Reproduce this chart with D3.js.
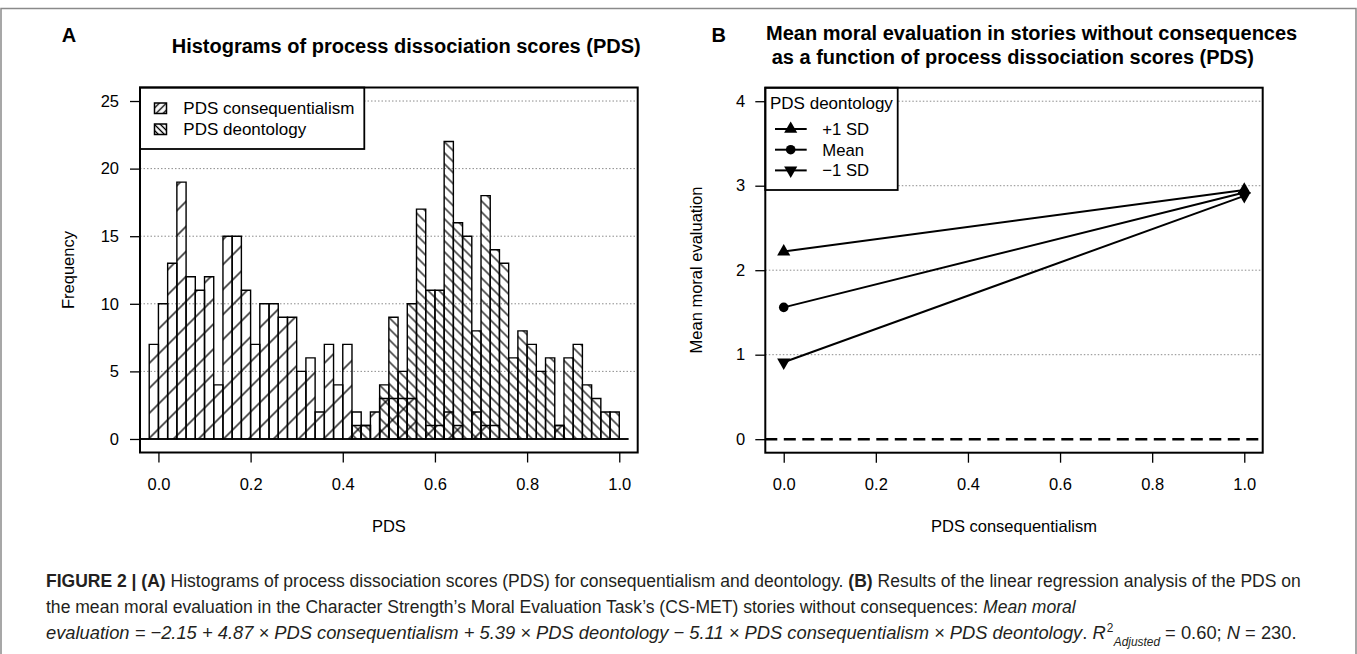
<!DOCTYPE html>
<html>
<head>
<meta charset="utf-8">
<script src="https://cdn.jsdelivr.net/npm/d3@7"></script>
<style>
  body { margin: 0; background: #fff; }
  svg { display: block; font-family: "Liberation Sans", Arial, sans-serif; }
</style>
</head>
<body>
<svg id="fig" width="1357" height="654"></svg>
<script>
//DATA - panel A (histogram breaks and counts)
const breaks = [-0.04, -0.02, 0.00, 0.02, 0.04, 0.06, 0.08, 0.10, 0.12, 0.14, 0.16, 0.18, 0.20,
  0.22, 0.24, 0.26, 0.28, 0.30, 0.32, 0.34, 0.36, 0.38, 0.40, 0.42, 0.44, 0.46, 0.48, 0.50, 0.52,
  0.54, 0.56, 0.58, 0.60, 0.62, 0.64, 0.66, 0.68, 0.70, 0.72, 0.74, 0.76, 0.78, 0.80, 0.82, 0.84,
  0.86, 0.88, 0.90, 0.92, 0.94, 0.96, 0.98, 1.00, 1.02];
const consequentialism = [0, 7, 10, 13, 19, 12, 11, 12, 4, 15, 15, 11, 7, 10, 10, 9, 9, 5, 6, 2,
  7, 4, 7, 2, 1, 2, 3, 3, 3, 3, 0, 1, 1, 2, 1, 0, 2, 1, 1, 0, 0, 0, 0, 0, 0, 1, 0, 0, 0, 0, 0, 0, 0];
const deontology = [0, 0, 0, 0, 0, 0, 0, 0, 0, 0, 0, 0, 0, 0, 0, 0, 0, 0, 0, 0,
  0, 0, 0, 1, 1, 0, 4, 9, 5, 10, 17, 11, 11, 22, 16, 15, 8, 18, 14, 13,
  6, 8, 7, 5, 6, 1, 6, 7, 4, 3, 2, 2, 0];
const pdsTicks = [0, 0.2, 0.4, 0.6, 0.8, 1.0];
const freqTicks = [0, 5, 10, 15, 20, 25];
const histLegend = ["PDS consequentialism", "PDS deontology"];

//DATA - panel B (simple slopes)
const pdsConseq = [0, 1];
const sdLabels = ["+1 SD", "Mean", "\u22121 SD"];
const plusOneSD = [2.22, 2.95];
const meanSD = [1.56, 2.92];
const minusOneSD = [0.91, 2.88];
const evalTicks = [0, 1, 2, 3, 4];

const svg = d3.select("#fig");
const defs = svg.append("defs");

function Hatch(id, angle, period, width) {
  let w = period / Math.SQRT2;
  defs
    .append("pattern")
    .attr("id", id)
    .attr("patternUnits", "userSpaceOnUse")
    .attr("width", w)
    .attr("height", 10)
    .attr("patternTransform", `rotate(${angle})`)
    .append("line")
    .attr("x1", w / 2)
    .attr("x2", w / 2)
    .attr("y1", -1)
    .attr("y2", 11)
    .attr("stroke", "#000")
    .attr("stroke-width", width);
}
Hatch("hatchCons", 45, 25, 1.3);
Hatch("hatchDeon", -45, 11, 1.2);
Hatch("legCons", 45, 7, 1.4);
Hatch("legDeon", -45, 6, 1.4);

// figure frame
svg
  .append("rect")
  .attr("x", 1)
  .attr("y", 8.5)
  .attr("width", 1355)
  .attr("height", 660)
  .attr("fill", "none")
  .attr("stroke", "#8a8a8a")
  .attr("stroke-width", 1.5);

function StyleAxis(g) {
  g.select(".domain").remove();
  g.attr("font-family", "Liberation Sans, Arial, sans-serif").attr("font-size", 16.5);
  g.selectAll("line").attr("stroke", "#000").attr("stroke-width", 1.3);
  g.selectAll("text").attr("fill", "#000");
}

/* ------------------------------ PANEL A ------------------------------ */
const xA = d3.scaleLinear().domain([-0.04, 1.04]).range([140, 637.7]);
const yA = d3.scaleLinear().domain([-1, 26]).range([452.5, 87.5]);
const panelA = svg.append("g");

panelA
  .selectAll(".gridA")
  .data(freqTicks.slice(1))
  .join("line")
  .attr("x1", xA.range()[0])
  .attr("x2", xA.range()[1])
  .attr("y1", (d) => yA(d))
  .attr("y2", (d) => yA(d))
  .attr("stroke", "#8c8c8c")
  .attr("stroke-width", 1)
  .attr("stroke-dasharray", "1.5,2");

function DrawBars(counts, fill) {
  panelA
    .append("g")
    .selectAll("path")
    .data(counts)
    .join("path")
    .attr("d", (d, i) => {
      let x0 = xA(breaks[i]);
      let x1 = xA(breaks[i + 1]);
      return `M${x0},${yA(0)}V${yA(d)}H${x1}V${yA(0)}Z`;
    })
    .attr("fill", `url(#${fill})`)
    .attr("stroke", "#000")
    .attr("stroke-width", 1.4);
}
DrawBars(consequentialism, "hatchCons");
DrawBars(deontology, "hatchDeon");

// legend A
panelA
  .append("rect")
  .attr("x", 140)
  .attr("y", 87.5)
  .attr("width", 224.3)
  .attr("height", 61.5)
  .attr("fill", "#fff")
  .attr("stroke", "#000")
  .attr("stroke-width", 1.8);
const legA = panelA
  .selectAll(".legA")
  .data(histLegend)
  .join("g")
  .attr("transform", (d, i) => `translate(0,${i * 21})`);
legA
  .append("rect")
  .attr("x", 154.5)
  .attr("y", 103)
  .attr("width", 12)
  .attr("height", 10.5)
  .attr("fill", (d, i) => (i === 0 ? "url(#legCons)" : "url(#legDeon)"))
  .attr("stroke", "#000")
  .attr("stroke-width", 1.5);
legA
  .append("text")
  .attr("x", 183.3)
  .attr("y", 114)
  .attr("font-size", 17)
  .text((d) => d);

// box + axes A
panelA
  .append("rect")
  .attr("x", 140)
  .attr("y", 87.5)
  .attr("width", 497.7)
  .attr("height", 365)
  .attr("fill", "none")
  .attr("stroke", "#000")
  .attr("stroke-width", 2);
panelA
  .append("g")
  .attr("transform", "translate(0,452.5)")
  .call(d3.axisBottom(xA).tickValues(pdsTicks).tickSize(10).tickPadding(16).tickFormat(d3.format(".1f")))
  .call(StyleAxis);
panelA
  .append("g")
  .attr("transform", "translate(140,0)")
  .call(d3.axisLeft(yA).tickValues(freqTicks).tickSize(10).tickPadding(11).tickFormat(d3.format("d")))
  .call(StyleAxis);

panelA
  .append("text")
  .attr("transform", "translate(74,270) rotate(-90)")
  .attr("text-anchor", "middle")
  .attr("font-size", 16.5)
  .text("Frequency");
panelA
  .append("text")
  .attr("x", 388.9)
  .attr("y", 531.7)
  .attr("text-anchor", "middle")
  .attr("font-size", 16.5)
  .text("PDS");
panelA
  .append("text")
  .attr("x", 61.7)
  .attr("y", 41.7)
  .attr("font-size", 20)
  .attr("font-weight", "bold")
  .text("A");
panelA
  .append("text")
  .attr("x", 171.7)
  .attr("y", 53)
  .attr("font-size", 20)
  .attr("font-weight", "bold")
  .text("Histograms of process dissociation scores (PDS)");

/* ------------------------------ PANEL B ------------------------------ */
const xB = d3.scaleLinear().domain([-0.04, 1.04]).range([765.3, 1262.7]);
const yB = d3.scaleLinear().domain([-0.16, 4.16]).range([452.7, 87.7]);
const panelB = svg.append("g");

panelB
  .selectAll(".gridB")
  .data(evalTicks.slice(1))
  .join("line")
  .attr("x1", xB.range()[0])
  .attr("x2", xB.range()[1])
  .attr("y1", (d) => yB(d))
  .attr("y2", (d) => yB(d))
  .attr("stroke", "#8c8c8c")
  .attr("stroke-width", 1)
  .attr("stroke-dasharray", "1.5,2");

panelB
  .append("line")
  .attr("x1", xB.range()[0])
  .attr("x2", xB.range()[1] - 4)
  .attr("y1", yB(0))
  .attr("y2", yB(0))
  .attr("stroke", "#000")
  .attr("stroke-width", 2.4)
  .attr("stroke-dasharray", "12,6.5");

const slopes = [
  { label: sdLabels[0], values: plusOneSD, shape: d3.symbolTriangle, rot: 0, size: 75 },
  { label: sdLabels[1], values: meanSD, shape: d3.symbolCircle, rot: 0, size: 72 },
  { label: sdLabels[2], values: minusOneSD, shape: d3.symbolTriangle, rot: 180, size: 75 },
];
const slopeLine = d3
  .line()
  .x((d, i) => xB(pdsConseq[i]))
  .y((d) => yB(d));

slopes.forEach((s) => {
  panelB
    .append("path")
    .attr("d", slopeLine(s.values))
    .attr("fill", "none")
    .attr("stroke", "#000")
    .attr("stroke-width", 2);
  panelB
    .selectAll(null)
    .data(s.values)
    .join("path")
    .attr("d", d3.symbol().type(s.shape).size(s.size))
    .attr("transform", (d, i) => `translate(${xB(pdsConseq[i])},${yB(d)}) rotate(${s.rot})`)
    .attr("fill", "#000");
});

// legend B
panelB
  .append("rect")
  .attr("x", 765.3)
  .attr("y", 87.7)
  .attr("width", 132.4)
  .attr("height", 102.3)
  .attr("fill", "#fff")
  .attr("stroke", "#000")
  .attr("stroke-width", 1.8);
panelB
  .append("text")
  .attr("x", 770)
  .attr("y", 108.5)
  .attr("font-size", 17)
  .text("PDS deontology");
const legB = panelB
  .selectAll(".legB")
  .data(slopes)
  .join("g")
  .attr("transform", (d, i) => `translate(0,${129 + i * 20.7})`);
legB
  .append("line")
  .attr("x1", 775)
  .attr("x2", 806.7)
  .attr("stroke", "#000")
  .attr("stroke-width", 2);
legB
  .append("path")
  .attr("d", (d) => d3.symbol().type(d.shape).size(d.size)())
  .attr("transform", (d) => `translate(790.7,0) rotate(${d.rot})`)
  .attr("fill", "#000");
legB
  .append("text")
  .attr("x", 822.3)
  .attr("y", 5.8)
  .attr("font-size", 16.7)
  .text((d) => d.label);

// box + axes B
panelB
  .append("rect")
  .attr("x", 765.3)
  .attr("y", 87.7)
  .attr("width", 497.4)
  .attr("height", 365)
  .attr("fill", "none")
  .attr("stroke", "#000")
  .attr("stroke-width", 2);
panelB
  .append("g")
  .attr("transform", "translate(0,452.7)")
  .call(d3.axisBottom(xB).tickValues(pdsTicks).tickSize(10).tickPadding(16).tickFormat(d3.format(".1f")))
  .call(StyleAxis);
panelB
  .append("g")
  .attr("transform", "translate(765.3,0)")
  .call(d3.axisLeft(yB).tickValues(evalTicks).tickSize(10).tickPadding(10).tickFormat(d3.format("d")))
  .call(StyleAxis);

panelB
  .append("text")
  .attr("transform", "translate(702,270) rotate(-90)")
  .attr("text-anchor", "middle")
  .attr("font-size", 16.5)
  .text("Mean moral evaluation");
panelB
  .append("text")
  .attr("x", 1014)
  .attr("y", 532)
  .attr("text-anchor", "middle")
  .attr("font-size", 16.5)
  .text("PDS consequentialism");
panelB
  .append("text")
  .attr("x", 711.6)
  .attr("y", 41.7)
  .attr("font-size", 20)
  .attr("font-weight", "bold")
  .text("B");
panelB
  .append("text")
  .attr("x", 766)
  .attr("y", 40)
  .attr("font-size", 20)
  .attr("font-weight", "bold")
  .text("Mean moral evaluation in stories without consequences");
panelB
  .append("text")
  .attr("x", 771.7)
  .attr("y", 64)
  .attr("font-size", 20)
  .attr("font-weight", "bold")
  .text("as a function of process dissociation scores (PDS)");

/* ------------------------------ CAPTION ------------------------------ */
const captionLines = [
  {
    y: 587,
    len: 1256,
    parts: [
      { t: "FIGURE 2 | (A)", b: true },
      { t: " Histograms of process dissociation scores (PDS) for consequentialism and deontology. " },
      { t: "(B)", b: true },
      { t: " Results of the linear regression analysis of the PDS on" },
    ],
  },
  {
    y: 613,
    len: 1031,
    parts: [
      { t: "the mean moral evaluation in the Character Strength\u2019s Moral Evaluation Task\u2019s (CS-MET) stories without consequences: " },
      { t: "Mean moral", i: true },
    ],
  },
  {
    y: 639,
    len: 1250,
    parts: [
      { t: "evaluation = \u22122.15 + 4.87 \u00d7 PDS consequentialism + 5.39 \u00d7 PDS deontology \u2212 5.11 \u00d7 PDS consequentialism \u00d7 PDS deontology", i: true },
      { t: ". " },
      { t: "R", i: true },
      { t: "2", sup: true, dx: 1 },
      { t: "Adjusted", i: true, sub: true, dx: 0.5 },
      { t: " = 0.60; " },
      { t: "N", i: true },
      { t: " = 230." },
    ],
  },
];
const caption = svg.append("g").attr("fill", "#231f20");
captionLines.forEach((line) => {
  // each line is squeezed horizontally to the width it has in the figure
  const holder = caption.append("g");
  const txt = holder
    .append("text")
    .attr("x", 0)
    .attr("y", 0)
    .attr("font-family", "Liberation Sans, Arial, sans-serif")
    .attr("font-size", 18.5)
    .attr("xml:space", "preserve");
  line.parts.forEach((p) => {
    const ts = txt.append("tspan").text(p.t);
    if (p.b) ts.attr("font-weight", "bold");
    if (p.i) ts.attr("font-style", "italic");
    if (p.dx) ts.attr("dx", p.dx);
    if (p.sup) ts.attr("baseline-shift", "super").attr("font-size", 12);
    if (p.sub) ts.attr("baseline-shift", "sub").attr("font-size", 12);
  });
  let natural = txt.node().getComputedTextLength();
  holder.attr("transform", `translate(46,${line.y}) scale(${line.len / natural},1)`);
});
</script>
</body>
</html>
